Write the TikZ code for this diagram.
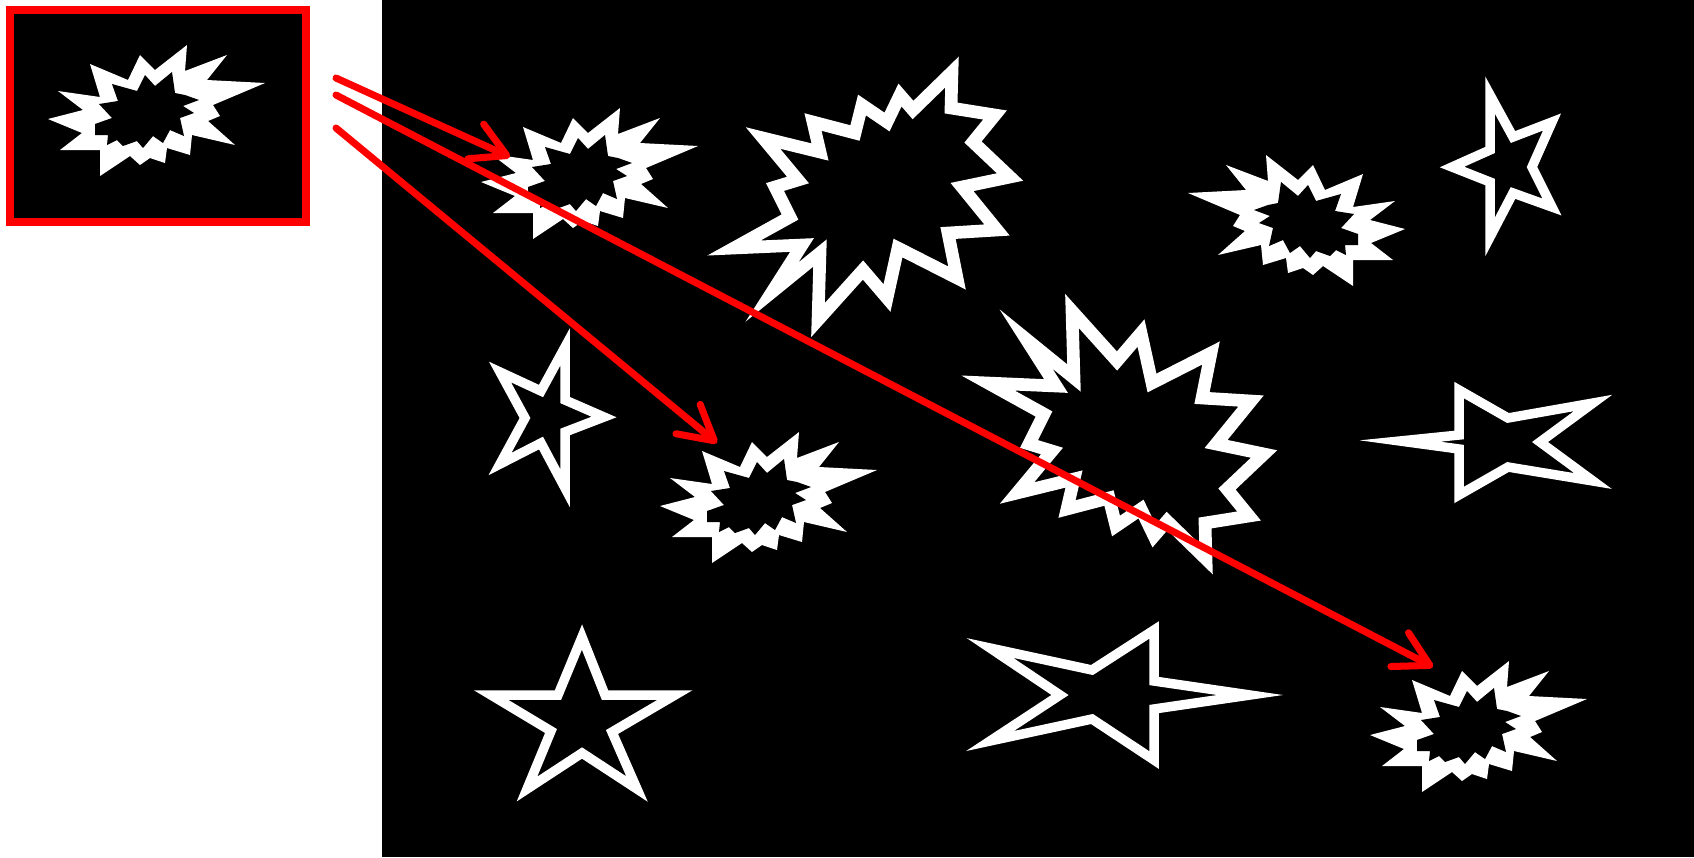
\documentclass[tikz,border=0pt]{standalone}
\usetikzlibrary{arrows.meta}

\tikzset{
  outline/.style={draw=white, line width=3.6pt, line join=miter, miter limit=30},
  starline/.style={draw=white, line width=2.7pt, line join=miter, miter limit=30},
  redarrow/.style={draw=red, line width=2pt, line cap=round,
    -{Straight Barb[length=3.4mm, width=3.8mm, line cap=round, line join=round]}},
  % small explosion: white outer burst with a black hole inside
  burst/.pic={
    \fill[white] (-109,9) -- (-74,0) -- (-99,-19) -- (-57,-13) -- (-67,-46) -- (-29,-30)
      -- (-17,-55) -- (-2,-40) -- (30,-65) -- (28,-39) -- (70,-55) -- (50,-30) -- (108,-27)
      -- (56,-5) -- (63,6) -- (51,11) -- (78,35) -- (35,25) -- (33,45) -- (10,38) -- (8,53)
      -- (-7,48) -- (-17,55) -- (-27,46) -- (-57,66) -- (-57,40) -- (-97,40) -- (-75,23) -- cycle;
    \fill[black] (-62,14) -- (-45,8) -- (-58,-6) -- (-39,-9) -- (-45,-26) -- (-20,-19)
      -- (-12,-35) -- (-2,-24) -- (15,-38) -- (18,-17) -- (28,-15) -- (42,-10) -- (26,-4)
      -- (37,3) -- (23,8) -- (27,26) -- (13,20) -- (6,33) -- (-4,26) -- (-14,38) -- (-20,31)
      -- (-34,36) -- (-40,30) -- (-50,35) -- (-49,25) -- (-62,25) -- cycle;
  },
  % large explosion, outline only
  bigburst/.pic={
    \draw[outline] (87,-124) -- (86,-88) -- (130,-81) -- (108,-54) -- (145,-19) -- (97,-9)
      -- (132,34) -- (83,37) -- (92,82) -- (33,52) -- (22,102) -- (-2,74) -- (-47,124)
      -- (-45,57) -- (-93,96) -- (-63,49) -- (-131,52) -- (-75,21) -- (-90,-9) -- (-67,-16)
      -- (-102,-58) -- (-45,-44) -- (-52,-74) -- (-10,-63) -- (-3,-91) -- (22,-74) -- (35,-101)
      -- (48,-86) -- cycle;
  }
}

\begin{document}
\begin{tikzpicture}[x=0.01cm, y=-0.01cm]
\useasboundingbox (0,0) rectangle (1694,857);

% the scene
\fill[black] (382,0) rectangle (1694,857);

% template in its red box
\node[draw=red, fill=black, line width=2.3pt, inner sep=0pt,
      minimum width=2.96cm, minimum height=2.125cm] (tplbox) at (158,116) {};
\pic at (157,110) {burst};

% copies of the template in the scene
\pic at (590,173) {burst};
\pic at (769,497) {burst};
\pic at (1479,726) {burst};
\pic[xscale=-1] at (1296,220) {burst};

% large explosions
\pic at (865,196) {bigburst};
\pic[yscale=-1] at (1119,435) {bigburst};

% stars
\draw[starline] (1490,95) -- (1513,137) -- (1552,122) -- (1532,167) -- (1552,207)
  -- (1513,193) -- (1490,237) -- (1490,182) -- (1452,167) -- (1490,150) -- cycle;
\draw[starline] (565,347) -- (565,400) -- (604,417) -- (565,432) -- (565,488)
  -- (541,443) -- (500,464) -- (525,418) -- (500,372) -- (541,391) -- cycle;
\draw[starline] (1400,441) -- (1459,435) -- (1459,390) -- (1508,418) -- (1593,403)
  -- (1540,442) -- (1593,481) -- (1508,467) -- (1459,495) -- (1459,449) -- cycle;
\draw[starline] (990,648) -- (1092,670) -- (1154,630) -- (1154,681) -- (1250,695)
  -- (1154,709) -- (1154,760) -- (1092,719) -- (990,741) -- (1060,695) -- cycle;
\draw[starline] (582,637) -- (605,695) -- (675,695) -- (612,732) -- (637,789)
  -- (582,753) -- (527,789) -- (551,731) -- (491,695) -- (558,695) -- cycle;

% matches found for the template
\coordinate (from1) at (336,78);
\coordinate (from2) at (336,95);
\coordinate (from3) at (336,128);
\coordinate (to1) at (510,157);
\coordinate (to2) at (1433,667);
\coordinate (to3) at (717,443);
\draw[redarrow] (from1) -- (to1);
\draw[redarrow] (from2) -- (to2);
\draw[redarrow] (from3) -- (to3);

\end{tikzpicture}
\end{document}
